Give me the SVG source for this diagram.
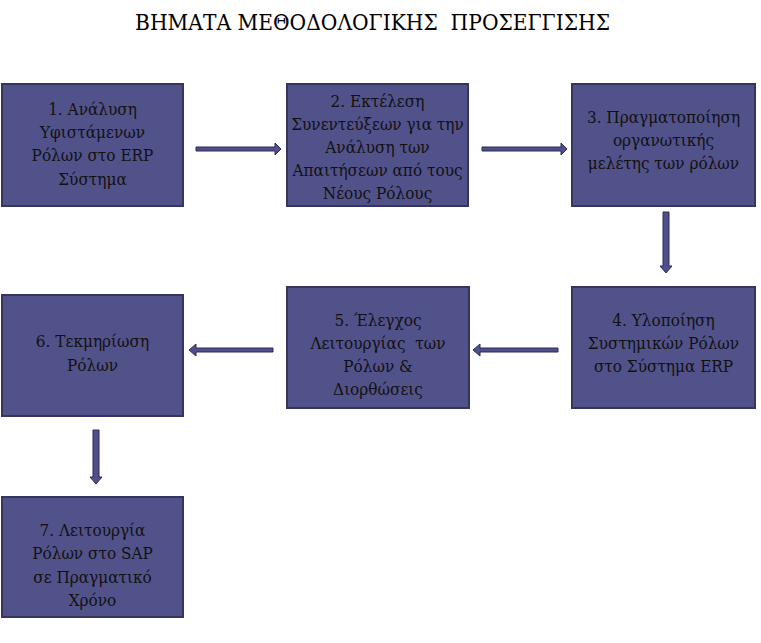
<svg xmlns="http://www.w3.org/2000/svg" width="761" height="643" viewBox="0 0 761 643">
<style>
.box{fill:#52528A;stroke:#36355F;stroke-width:2}
.t{font-family:"DejaVu Serif Condensed","DejaVu Serif",serif;font-stretch:condensed;font-size:17px;fill:#111;text-anchor:middle}
.title{font-family:"DejaVu Serif Condensed","DejaVu Serif",serif;font-stretch:condensed;font-size:22.5px;fill:#000;text-anchor:middle;white-space:pre}
.arr{fill:#4E4F8C;stroke:#2C2B52;stroke-width:1}
</style>
<rect width="761" height="643" fill="#fff"/>
<text class="title" x="372.5" y="30" xml:space="preserve">ΒΗΜΑΤΑ ΜΕΘΟΔΟΛΟΓΙΚΗΣ  ΠΡΟΣΕΓΓΙΣΗΣ</text>
<g id="connectors">
<path class="arr" d="M196,147 H275 V143 L281,149 L275,155 V151 H196 Z"/>
<path class="arr" d="M482,147 H561 V143 L567,149 L561,155 V151 H482 Z"/>
<path class="arr" d="M663,212 V266 H660 L666,273 L672,266 H669 V212 Z"/>
<path class="arr" d="M558,348 H480 V344 L473,350 L480,356 V352 H558 Z"/>
<path class="arr" d="M273,348 H196 V344 L189,350 L196,356 V352 H273 Z"/>
<path class="arr" d="M93,430 V477 H90 L96,484 L102,477 H99 V430 Z"/>
</g>
<g id="n1"><rect class="box" x="2" y="84" width="181" height="122"/>
<text class="t" x="92.5" y="115">1. Ανάλυση</text><text class="t" x="92.5" y="138">Υφιστάμενων</text><text class="t" x="92.5" y="161">Ρόλων στο ERP</text><text class="t" x="92.5" y="185">Σύστημα</text></g>
<g id="n2"><rect class="box" x="287" y="84" width="181" height="122"/>
<text class="t" x="377.5" y="107">2. Εκτέλεση</text><text class="t" x="377.5" y="130">Συνεντεύξεων για την</text><text class="t" x="377.5" y="153">Ανάλυση των</text><text class="t" x="377.5" y="176">Απαιτήσεων από τους</text><text class="t" x="377.5" y="199">Νέους Ρόλους</text></g>
<g id="n3"><rect class="box" x="572" y="84" width="183" height="122"/>
<text class="t" x="663.5" y="123">3. Πραγματοποίηση</text><text class="t" x="663.5" y="146">οργανωτικής</text><text class="t" x="663.5" y="169">μελέτης των ρόλων</text></g>
<g id="n4"><rect class="box" x="572" y="287" width="183" height="121"/>
<text class="t" x="663.5" y="326">4. Υλοποίηση</text><text class="t" x="663.5" y="349">Συστημικών Ρόλων</text><text class="t" x="663.5" y="372">στο Σύστημα ERP</text></g>
<g id="n5"><rect class="box" x="287" y="287" width="182" height="121"/>
<text class="t" x="378" y="326">5. Έλεγχος</text><text class="t" x="378" y="349" xml:space="preserve" style="white-space:pre">Λειτουργίας  των</text><text class="t" x="378" y="372">Ρόλων &amp;</text><text class="t" x="378" y="395">Διορθώσεις</text></g>
<g id="n6"><rect class="box" x="2" y="295" width="181" height="121"/>
<text class="t" x="92.5" y="347">6. Τεκμηρίωση</text><text class="t" x="92.5" y="371">Ρόλων</text></g>
<g id="n7"><rect class="box" x="2" y="497" width="181" height="120"/>
<text class="t" x="92.5" y="536">7. Λειτουργία</text><text class="t" x="92.5" y="559">Ρόλων στο SAP</text><text class="t" x="92.5" y="583">σε Πραγματικό</text><text class="t" x="92.5" y="606">Χρόνο</text></g>
</svg>
